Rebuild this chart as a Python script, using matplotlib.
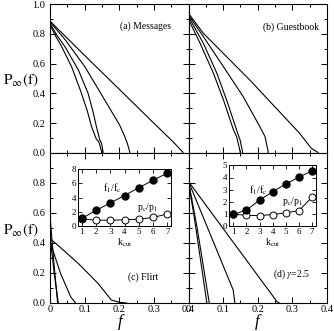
import matplotlib
matplotlib.use("Agg")
import matplotlib.pyplot as plt
from matplotlib.ticker import MultipleLocator

plt.rcParams['font.family'] = 'serif'
plt.rcParams['font.serif'] = ['Liberation Serif', 'DejaVu Serif']
plt.rcParams['mathtext.fontset'] = 'stix'

# ---- data ----
# (a) Messages: four curves, f and P_inf(f)
a_f = [
    [0, 0.015, 0.0336, 0.0624, 0.091, 0.108, 0.120, 0.134, 0.141, 0.149, 0.149],
    [0, 0.020, 0.043, 0.082, 0.110, 0.124, 0.134, 0.144, 0.149, 0.153, 0.153],
    [0, 0.043, 0.1007, 0.158, 0.201, 0.216, 0.224, 0.230, 0.230],
    [0, 0.10, 0.20, 0.30, 0.355, 0.369, 0.384, 0.384],
]
a_p = [
    [0.86, 0.79, 0.714, 0.579, 0.40, 0.28, 0.177, 0.092, 0.076, 0.01, 0.0],
    [0.87, 0.79, 0.714, 0.557, 0.40, 0.28, 0.177, 0.087, 0.065, 0.01, 0.0],
    [0.88, 0.763, 0.579, 0.356, 0.188, 0.110, 0.060, 0.01, 0.0],
    [0.885, 0.655, 0.428, 0.200, 0.076, 0.042, 0.005, 0.0],
]
# (b) Guestbook
b_f = [
    [0, 0.0336, 0.072, 0.101, 0.130, 0.139, 0.149, 0.149],
    [0, 0.043, 0.082, 0.110, 0.139, 0.149, 0.156, 0.156],
    [0, 0.043, 0.101, 0.158, 0.206, 0.221, 0.225, 0.230, 0.230],
    [0, 0.043, 0.177, 0.321, 0.355, 0.374, 0.374],
]
b_p = [
    [0.897, 0.736, 0.535, 0.356, 0.154, 0.110, 0.01, 0.0],
    [0.915, 0.736, 0.535, 0.356, 0.154, 0.087, 0.01, 0.0],
    [0.926, 0.781, 0.579, 0.378, 0.177, 0.110, 0.065, 0.01, 0.0],
    [0.937, 0.803, 0.490, 0.132, 0.031, 0.004, 0.0],
]
# (c) Flirt
c_f = [
    [0, 0.010, 0.022],
    [0, 0.012, 0.024],
    [0, 0.030, 0.060, 0.074],
    [0, 0.030, 0.0815, 0.139, 0.177, 0.20, 0.221],
]
c_p = [
    [0.58, 0.30, 0.0],
    [0.45, 0.20, 0.0],
    [0.41, 0.20, 0.04, 0.0],
    [0.43, 0.37, 0.264, 0.13, 0.02, 0.005, 0.0],
]
# (d) gamma = 2.5
d_f = [
    [0, 0.020, 0.053],
    [0, 0.025, 0.060],
    [0, 0.129, 0.134],
    [0, 0.245, 0.255, 0.262],
]
d_p = [
    [0.81, 0.52, 0.0],
    [0.81, 0.50, 0.0],
    [0.81, 0.087, 0.0],
    [0.81, 0.042, 0.01, 0.0],
]

# insets
k_cut = [1, 2, 3, 4, 5, 6, 7]
c_f1fc = [1.07, 2.2, 3.25, 4.3, 5.4, 6.45, 7.45]
c_pcp1 = [1.0, 0.82, 0.82, 0.87, 0.97, 1.2, 1.7]
d_f1fc = [0.97, 1.33, 2.14, 2.83, 3.47, 4.03, 4.55]
d_pcp1 = [1.0, 0.9, 0.88, 0.96, 1.11, 1.28, 2.4]

W, H = 334, 331
fig = plt.figure(figsize=(W / 100, H / 100), dpi=100)


def box(x0, y0, x1, y1):
    # pixel box -> figure fraction rect
    return [x0 / W, 1 - y1 / H, (x1 - x0) / W, (y1 - y0) / H]


def ftext(x, y, s, **kw):
    # text placed in picture pixels (from top-left)
    fig.text(x / W, 1 - y / H, s, ha='center', va='center', **kw)


ax_a = fig.add_axes(box(50, 4, 188.5, 153))
ax_b = fig.add_axes(box(188.5, 4, 327, 153))
ax_c = fig.add_axes(box(50, 153, 188.5, 303))
ax_d = fig.add_axes(box(188.5, 153, 327, 303))

panels = [(ax_a, a_f, a_p), (ax_b, b_f, b_p), (ax_c, c_f, c_p), (ax_d, d_f, d_p)]
for ax, fs, ps in panels:
    for f, p in zip(fs, ps):
        ax.plot(f, p, color='black', lw=0.8)
    ax.set_xlim(0, 0.4)
    ax.set_ylim(0, 1.0)
    ax.xaxis.set_major_locator(MultipleLocator(0.1))
    ax.xaxis.set_minor_locator(MultipleLocator(0.05))
    ax.yaxis.set_major_locator(MultipleLocator(0.2))
    ax.yaxis.set_minor_locator(MultipleLocator(0.1))
    ax.tick_params(which='both', direction='in', top=True, right=True, labelsize=7.5)
    ax.tick_params(which='major', length=4, width=0.7)
    ax.tick_params(which='minor', length=2, width=0.7)
    ax.tick_params(axis='x', pad=1.5)
    for s in ax.spines.values():
        s.set_linewidth(0.8)

ax_a.tick_params(labelbottom=False)
ax_b.tick_params(labelbottom=False, labelleft=False)
ax_d.tick_params(labelleft=False)
ax_a.set_yticks([0, 0.2, 0.4, 0.6, 0.8, 1.0])
ax_a.set_yticklabels(['0.0', '0.2', '0.4', '0.6', '0.8', '1.0'])
ax_c.set_yticks([0, 0.2, 0.4, 0.6, 0.8])
ax_c.set_yticklabels(['0.0', '0.2', '0.4', '0.6', '0.8'])
for ax in (ax_c, ax_d):
    ax.set_xticks([0, 0.1, 0.2, 0.3, 0.4])
    ax.set_xticklabels(['0', '0.1', '0.2', '0.3', '0.4'])

# axis labels
ylab = r'$\mathrm{P}_{\infty}\mathrm{(f)}$'
ftext(21, 80, ylab, fontsize=11)
ftext(21, 230, ylab, fontsize=11)
ftext(120, 322, 'f', fontsize=12, style='italic')
ftext(257, 322, 'f', fontsize=12, style='italic')

# panel titles
ftext(146, 26, '(a) Messages', fontsize=7)
ftext(291, 27, '(b) Guestbook', fontsize=7)
ftext(143, 277, '(c) Flirt', fontsize=7)
ftext(292, 274, r'(d) $\gamma$=2.5', fontsize=7)

# insets
in_c = fig.add_axes(box(78.3, 169.3, 170.7, 226))
in_d = fig.add_axes(box(229.3, 165.3, 316, 226.3))
insets = [(in_c, c_f1fc, c_pcp1, 8, 2, (0.75, 7.25)),
          (in_d, d_f1fc, d_pcp1, 5, 1, (0.7, 7.3))]
for ax, f1, pc, ymax, ystep, xl in insets:
    ax.plot(k_cut, f1, color='black', lw=0.7, marker='o', ms=5,
            mfc='black', mec='black', zorder=3)
    ax.plot(k_cut, pc, color='black', lw=0.7, marker='o', ms=5,
            mfc='white', mec='black', mew=0.7, zorder=2)
    ax.set_xlim(*xl)
    ax.set_ylim(0, ymax)
    ax.xaxis.set_major_locator(MultipleLocator(1))
    ax.yaxis.set_major_locator(MultipleLocator(ystep))
    ax.tick_params(which='both', direction='in', top=True, right=True,
                   labelsize=6.5, pad=1.5, length=3, width=0.6)
    ax.set_xlabel(r'k$_{\mathrm{cut}}$', fontsize=7, labelpad=0)
    for s in ax.spines.values():
        s.set_linewidth(0.7)

ftext(112, 188, r'f$_1$/f$_\mathrm{c}$', fontsize=7)
ftext(147, 207, r'p$_\mathrm{c}$/p$_1$', fontsize=7)
ftext(258, 190, r'f$_1$/f$_\mathrm{c}$', fontsize=7)
ftext(292, 202, r'p$_\mathrm{c}$/p$_1$', fontsize=7)

fig.savefig('out.png', dpi=100)
